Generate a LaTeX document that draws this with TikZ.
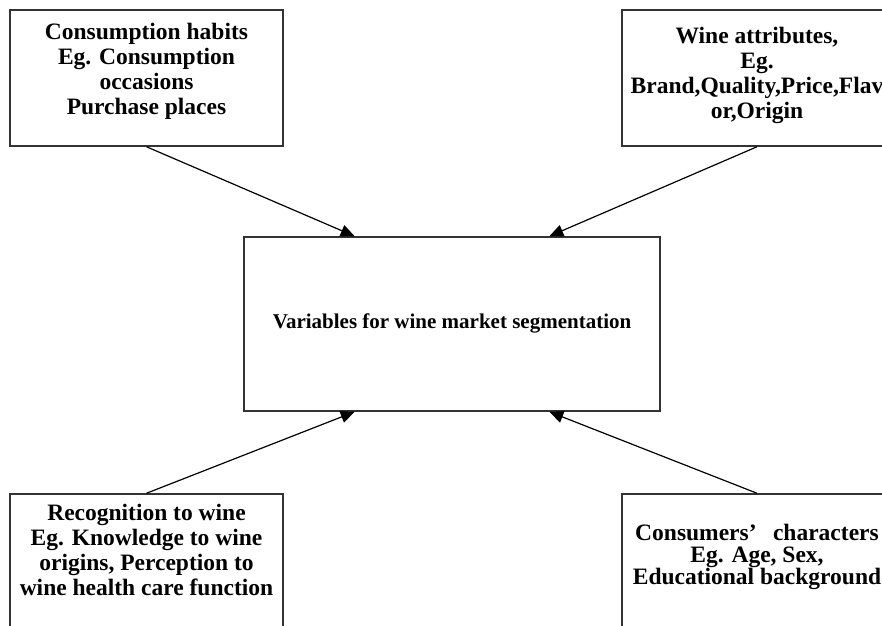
\documentclass[tikz,border=0pt]{standalone}
\usepackage{fontspec}
\setmainfont{Liberation Serif}
\usetikzlibrary{arrows.meta,calc}
\tikzset{
  sidebox/.style={draw=black!80,line width=1.5pt,minimum width=273pt,minimum height=136pt,inner sep=0pt},
  sidetext/.style={align=center,font=\fontsize{23.5}{25}\selectfont\bfseries},
  feed/.style={-{Triangle[length=14pt,width=12pt]},line width=1.2pt}
}
\begin{document}
\begin{tikzpicture}[x=1pt,y=-1pt]
    \useasboundingbox (0,0) rectangle (882,625);
    \clip (0,0) rectangle (882,625);
    % boxes
    \node[sidebox] (habits) at (146.5,78) {};
    \node[sidebox,minimum width=270pt] (attrib) at (757,78) {};
    \node[sidebox,minimum width=416pt,minimum height=174pt] (seg) at (452,324) {};
    \node[sidebox] (recog) at (146.5,562) {};
    \node[sidebox,minimum width=270pt] (consum) at (757,562) {};
    % texts
    \node[sidetext] (habitsT) at (146.5,71) {Consumption habits\\Eg. Consumption\\occasions\\Purchase places};
    \node[sidetext] (attribT) at (757,75) {Wine attributes,\\Eg.\\Brand,Quality,Price,Flav\\or,Origin};
    \node[font=\fontsize{21}{24}\selectfont\bfseries] (segT) at (452,323) {Variables for wine market segmentation};
    \node[sidetext] (recogT) at (146.5,550) {Recognition to wine\\Eg. Knowledge to wine\\origins, Perception to\\wine health care function};
    \node[sidetext,font=\fontsize{23.5}{22}\selectfont\bfseries] (consumT) at (757,557) {Consumers’\kern0.7em characters\\Eg. Age, Sex,\\Educational background};
    % arrows into the centre box
    \draw[feed] (habits.south) -- ($(seg.north west)!0.267!(seg.north east)$);
    \draw[feed] (attrib.south) -- ($(seg.north west)!0.733!(seg.north east)$);
    \draw[feed] (recog.north) -- ($(seg.south west)!0.267!(seg.south east)$);
    \draw[feed] (consum.north) -- ($(seg.south west)!0.733!(seg.south east)$);
\end{tikzpicture}
\end{document}
